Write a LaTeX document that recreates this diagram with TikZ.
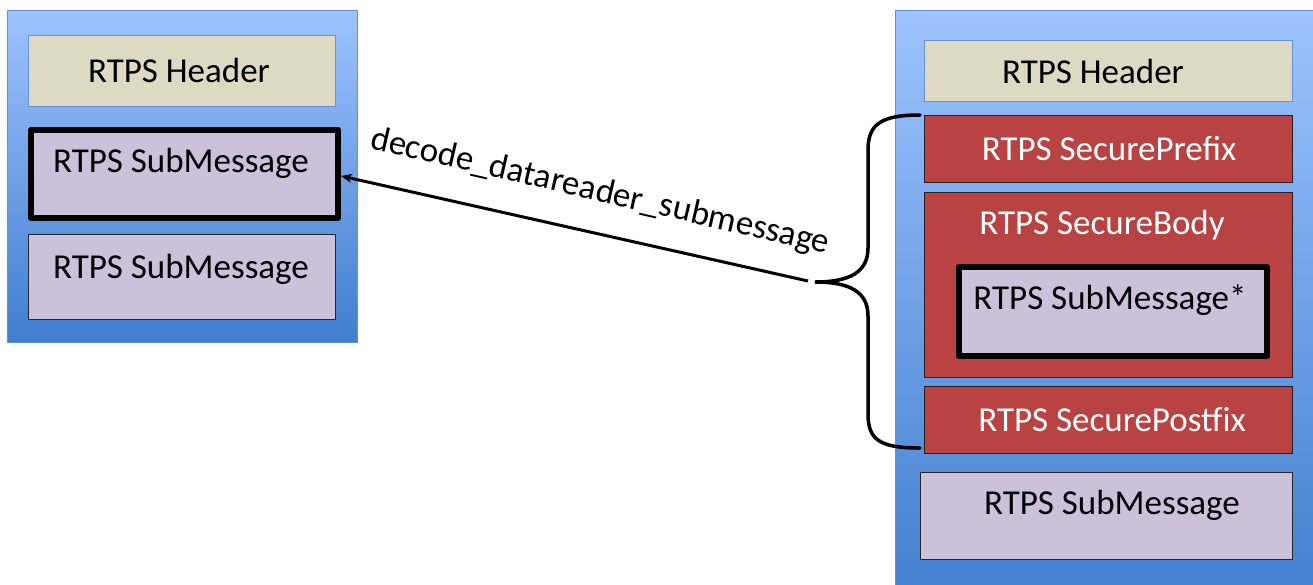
\documentclass[tikz,border=0pt]{standalone}
\usepackage{fontspec}
\setmainfont{Carlito}
\usetikzlibrary{arrows.meta}
\definecolor{bgtop}{RGB}{158,195,255}
\definecolor{bgbot}{RGB}{64,126,206}
\definecolor{bgedge}{RGB}{96,146,212}
\definecolor{hdrfill}{RGB}{221,217,195}
\definecolor{hdredge}{RGB}{100,148,208}
\definecolor{subfill}{RGB}{204,193,218}
\definecolor{secfill}{RGB}{185,66,66}
\definecolor{secedge}{RGB}{40,30,30}
\tikzset{
  panel/.style={draw=bgedge, line width=1pt, top color=bgtop, bottom color=bgbot, anchor=north west, inner sep=0pt},
  hdrbox/.style={draw=hdredge, line width=1pt, fill=hdrfill, anchor=north west, inner sep=0pt},
  subbox/.style={draw=black!85, line width=1pt, fill=subfill, anchor=north west, inner sep=0pt},
  thickbox/.style={draw=black, line width=6pt, line join=round, fill=subfill, anchor=north west, inner sep=0pt},
  secbox/.style={draw=secedge, line width=1pt, fill=secfill, anchor=north west, inner sep=0pt},
  txt/.style={anchor=base, inner sep=0pt, font=\fontsize{35}{42}\selectfont},
  wtxt/.style={txt, text=white},
  brace/.style={draw=black, line width=3.5pt, line cap=round},
  conn/.style={draw=black, line width=3pt, -{Stealth[length=11pt,width=9pt]}}
}
\begin{document}
\begin{tikzpicture}[x=1pt,y=-1pt]
\useasboundingbox (0,0) rectangle (1313,584);
\clip (0,0) rectangle (1313,584);

% left panel
\node[panel, minimum width=350pt, minimum height=332pt] (lpanel) at (7,10) {};
\node[hdrbox, minimum width=307pt, minimum height=71pt] (lhdr) at (28,35) {};
\node[txt] (lhdrt) at (179,82) {RTPS Header};
\node[thickbox, minimum width=307pt, minimum height=88pt] (lsub) at (28,127) {};
\node[txt] (lsubt) at (181,172) {RTPS SubMessage};
\node[subbox, minimum width=307pt, minimum height=85pt] (lsub2) at (28,234) {};
\node[txt] (lsub2t) at (181,278) {RTPS SubMessage};

% right panel
\node[panel, minimum width=440pt, minimum height=600pt] (rpanel) at (895,10) {};
\node[hdrbox, minimum width=368pt, minimum height=61pt] (rhdr) at (924,40) {};
\node[txt] (rhdrt) at (1093,83) {RTPS Header};
\node[secbox, minimum width=368pt, minimum height=67pt] (pre) at (924,115) {};
\node[wtxt] (pret) at (1109,160) {RTPS SecurePrefix};
\node[secbox, minimum width=368pt, minimum height=185pt] (body) at (924,192) {};
\node[wtxt] (bodyt) at (1102,234) {RTPS SecureBody};
\node[thickbox, minimum width=308pt, minimum height=89pt] (isub) at (956,264) {};
\node[txt] (isubt) at (1110,309) {RTPS SubMessage*};
\node[secbox, minimum width=368pt, minimum height=67pt] (post) at (924,386) {};
\node[wtxt] (postt) at (1112,431) {RTPS SecurePostfix};
\node[subbox, minimum width=372pt, minimum height=87pt] (rsub) at (920,472) {};
\node[txt] (rsubt) at (1112,514) {RTPS SubMessage};

% brace
\coordinate (btop) at (920,115);
\coordinate (btip) at (815,282);
\coordinate (bbot) at (920,448);
\path[brace] (btop) .. controls (880,115) and (868,125) .. (868,150)
  -- (868,248) .. controls (868,272) and (850,282) .. (btip)
  .. controls (850,282) and (868,292) .. (868,316)
  -- (868,414) .. controls (868,440) and (880,448) .. (bbot);

% connector
\coordinate (cstart) at (808,281);
\path[conn] (cstart) -- ([xshift=0pt,yshift=-2pt]lsub.east);
\node[anchor=base, inner sep=0pt, rotate=-13, font=\fontsize{35}{42}\selectfont] (lbl) at (598,201) {decode\_datareader\_submessage};
\end{tikzpicture}
\end{document}
